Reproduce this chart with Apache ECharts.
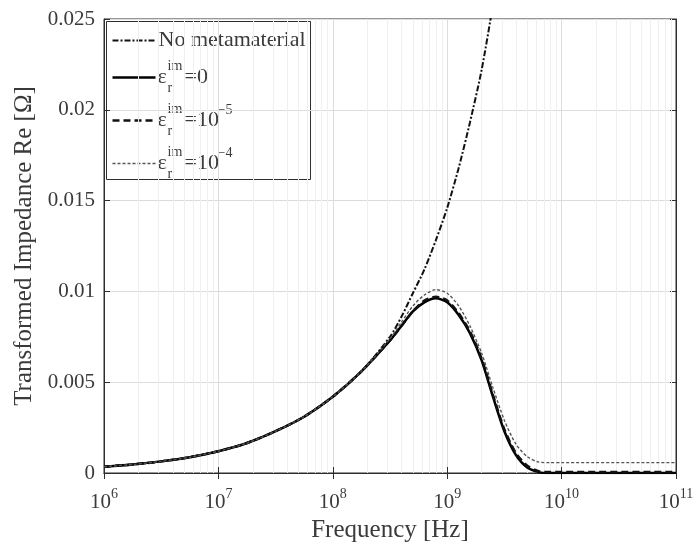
<!DOCTYPE html>
<html>
<head>
<meta charset="utf-8">
<script src="https://cdn.jsdelivr.net/npm/echarts@6/dist/echarts.min.js"></script>
<style>
html, body { margin: 0; padding: 0; background: #fff; }
#chart { width: 697px; height: 559px; }
</style>
</head>
<body>
<div id="chart"></div>
<script>
// Frequency samples [Hz]
const frequencyHz = [1e6, 1.78e6, 3.16e6, 5.62e6, 1e7, 1.78e7, 3.16e7, 5.62e7, 1e8, 1.78e8, 3.16e8,
  3.98e8, 5.01e8, 6.31e8, 7.94e8, 1e9, 1.26e9, 1.58e9, 2e9, 2.51e9, 3.16e9,
  3.98e9, 5.01e9, 6.31e9, 7.94e9, 1e10, 1e11];

// Real part of the transformed impedance [Ohm]
const noMetamaterial = [0.00035, 0.00047, 0.00064, 0.00087, 0.0012, 0.00165, 0.0023, 0.0031, 0.0042, 0.0056, 0.0075,
  0.0086, 0.0099, 0.0112, 0.0128, 0.0146, 0.0168, 0.0193, 0.0222, 0.0258, 0.0300,
  null, null, null, null, null, null];
const epsIm0 = [0.00035, 0.00047, 0.00064, 0.00087, 0.0012, 0.00165, 0.0023, 0.0031, 0.0042, 0.0056, 0.0073,
  0.0081, 0.0089, 0.0094, 0.00962, 0.0094, 0.0087, 0.0077, 0.0062, 0.0042, 0.0023,
  0.0010, 0.0003, 0.00005, 0.0, 0.0, 0.0];
const epsIm1e5 = [0.00035, 0.00047, 0.00064, 0.00087, 0.0012, 0.00165, 0.0023, 0.0031, 0.0042, 0.0056, 0.0073,
  0.0081, 0.0089, 0.0095, 0.0097, 0.0095, 0.0088, 0.0078, 0.0063, 0.0043, 0.0024,
  0.0011, 0.0004, 0.0001, 0.00005, 0.00005, 0.00005];
const epsIm1e4 = [0.00035, 0.00047, 0.00064, 0.00087, 0.0012, 0.00165, 0.0023, 0.0031, 0.0042, 0.0056, 0.0074,
  0.0083, 0.0092, 0.0098, 0.0101, 0.0099, 0.0092, 0.0081, 0.0066, 0.0047, 0.0029,
  0.0016, 0.0009, 0.0006, 0.00057, 0.00057, 0.00057];

// Axis ticks
const xTickExponents = [6, 7, 8, 9, 10, 11];
const yTickLabels = ['0', '0.005', '0.01', '0.015', '0.02', '0.025'];

// Minor log grid positions (2..9 x 10^n)
const minorFrequencies = [];
for (let e = xTickExponents[0]; e < xTickExponents[xTickExponents.length - 1]; e++) {
  for (let m = 2; m <= 9; m++) minorFrequencies.push(m * Math.pow(10, e));
}

const FONT = 'Liberation Serif';
const TXT = '#3a3a3a';
const AX = '#2e2e2e';

const pairs = arr => frequencyHz.map((f, i) => [f, arr[i]]);

const chart = echarts.init(document.getElementById('chart'), null, { renderer: 'canvas' });

const commonX = {
  type: 'log', logBase: 10,
  min: Math.pow(10, xTickExponents[0]),
  max: Math.pow(10, xTickExponents[xTickExponents.length - 1])
};

const option = {
  animation: false,
  backgroundColor: '#fff',
  grid: { left: 104, right: 21, top: 19, bottom: 86, show: true, borderColor: AX, borderWidth: 1, backgroundColor: '#fff' },
  xAxis: [
    Object.assign({}, commonX, {
      position: 'bottom',
      name: 'Frequency [Hz]',
      nameLocation: 'middle',
      nameGap: 42,
      nameTextStyle: { fontFamily: FONT, fontSize: 25, color: TXT },
      axisLine: { show: true, lineStyle: { color: AX, width: 1 } },
      axisTick: { show: true, inside: true, length: 6, lineStyle: { color: AX } },
      splitLine: { show: true, lineStyle: { color: '#dcdcdc', width: 1 } },
      axisLabel: {
        margin: 14,
        formatter: v => '{b|10}{s|' + Math.round(Math.log10(v)) + '}',
        rich: {
          b: { fontFamily: FONT, fontSize: 21, color: TXT, lineHeight: 26, verticalAlign: 'bottom' },
          s: { fontFamily: FONT, fontSize: 14, color: TXT, lineHeight: 14, verticalAlign: 'top' }
        }
      }
    }),
    Object.assign({}, commonX, {
      position: 'top',
      axisLine: { show: true, lineStyle: { color: AX } },
      axisTick: { show: true, inside: true, length: 6, lineStyle: { color: AX } },
      axisLabel: { show: false },
      splitLine: { show: false }
    })
  ],
  yAxis: [
    {
      type: 'value', min: 0, max: 0.025, interval: 0.005,
      position: 'left',
      name: 'Transformed Impedance Re [\u03A9]',
      nameLocation: 'middle',
      nameGap: 66,
      nameTextStyle: { fontFamily: FONT, fontSize: 25, color: TXT },
      axisLine: { show: true, lineStyle: { color: AX } },
      axisTick: { show: true, inside: true, length: 6, lineStyle: { color: AX } },
      splitLine: { show: true, lineStyle: { color: '#dcdcdc', width: 1 } },
      axisLabel: {
        margin: 9,
        fontFamily: FONT, fontSize: 21, color: TXT,
        formatter: v => yTickLabels[Math.round(v / 0.005)]
      }
    },
    {
      type: 'value', min: 0, max: 0.025, interval: 0.005,
      position: 'right',
      axisLine: { show: true, lineStyle: { color: AX } },
      axisTick: { show: true, inside: true, length: 6, lineStyle: { color: AX } },
      axisLabel: { show: false },
      splitLine: { show: false }
    }
  ],
  series: [
    {
      name: 'No metamaterial', type: 'line', data: pairs(noMetamaterial),
      showSymbol: false, smooth: 0.25, clip: true, z: 5,
      lineStyle: { color: '#111', width: 2, type: [6, 2, 2, 2] },
      markLine: {
        silent: true, symbol: 'none', animation: false,
        label: { show: false },
        lineStyle: { color: '#efefef', width: 1, type: 'solid' },
        data: minorFrequencies.map(f => ({ xAxis: f }))
      }
    },
    {
      name: 'eps0', type: 'line', data: pairs(epsIm0),
      showSymbol: false, smooth: 0.25, clip: true, z: 6,
      lineStyle: { color: '#000', width: 2.5, type: 'solid' }
    },
    {
      name: 'eps1e-5', type: 'line', data: pairs(epsIm1e5),
      showSymbol: false, smooth: 0.25, clip: true, z: 7,
      lineStyle: { color: '#111', width: 2.5, type: [7, 4] }
    },
    {
      name: 'eps1e-4', type: 'line', data: pairs(epsIm1e4),
      showSymbol: false, smooth: 0.25, clip: true, z: 8,
      lineStyle: { color: '#555', width: 1.4, type: [3, 2] }
    }
  ],
  graphic: [
    {
      type: 'group', left: 106, top: 21, z: 100,
      children: [
        { type: 'rect', shape: { x: 0, y: 0, width: 204, height: 158 }, style: { fill: '#fff', stroke: AX, lineWidth: 1 } },
        // entry 1
        { type: 'line', shape: { x1: 6, y1: 19, x2: 49, y2: 19 }, style: { stroke: '#111', lineWidth: 2, lineDash: [6, 2, 2, 2] } },
        { type: 'text', x: 52, y: 19, style: { text: 'No metamaterial', font: '22px "Liberation Serif"', fill: TXT, textVerticalAlign: 'middle' } },
        // entry 2
        { type: 'line', shape: { x1: 6, y1: 56, x2: 49, y2: 56 }, style: { stroke: '#000', lineWidth: 2.5 } },
        { type: 'text', x: 51, y: 56, style: { text: '\u03B5', font: '22px "Liberation Serif"', fill: TXT, textVerticalAlign: 'middle' } },
        { type: 'text', x: 61, y: 45, style: { text: 'im', font: '14px "Liberation Serif"', fill: TXT, textVerticalAlign: 'middle' } },
        { type: 'text', x: 61, y: 67, style: { text: 'r', font: '14px "Liberation Serif"', fill: TXT, textVerticalAlign: 'middle' } },
        { type: 'text', x: 78, y: 56, style: { text: '=0', font: '22px "Liberation Serif"', fill: TXT, textVerticalAlign: 'middle' } },
        // entry 3
        { type: 'line', shape: { x1: 6, y1: 99, x2: 49, y2: 99 }, style: { stroke: '#111', lineWidth: 2.5, lineDash: [7, 4] } },
        { type: 'text', x: 51, y: 99, style: { text: '\u03B5', font: '22px "Liberation Serif"', fill: TXT, textVerticalAlign: 'middle' } },
        { type: 'text', x: 61, y: 88, style: { text: 'im', font: '14px "Liberation Serif"', fill: TXT, textVerticalAlign: 'middle' } },
        { type: 'text', x: 61, y: 110, style: { text: 'r', font: '14px "Liberation Serif"', fill: TXT, textVerticalAlign: 'middle' } },
        { type: 'text', x: 78, y: 99, style: { text: '=10', font: '22px "Liberation Serif"', fill: TXT, textVerticalAlign: 'middle' } },
        { type: 'text', x: 111, y: 89, style: { text: '\u22125', font: '14px "Liberation Serif"', fill: TXT, textVerticalAlign: 'middle' } },
        // entry 4
        { type: 'line', shape: { x1: 6, y1: 142, x2: 49, y2: 142 }, style: { stroke: '#555', lineWidth: 1.4, lineDash: [3, 2] } },
        { type: 'text', x: 51, y: 142, style: { text: '\u03B5', font: '22px "Liberation Serif"', fill: TXT, textVerticalAlign: 'middle' } },
        { type: 'text', x: 61, y: 131, style: { text: 'im', font: '14px "Liberation Serif"', fill: TXT, textVerticalAlign: 'middle' } },
        { type: 'text', x: 61, y: 153, style: { text: 'r', font: '14px "Liberation Serif"', fill: TXT, textVerticalAlign: 'middle' } },
        { type: 'text', x: 78, y: 142, style: { text: '=10', font: '22px "Liberation Serif"', fill: TXT, textVerticalAlign: 'middle' } },
        { type: 'text', x: 111, y: 132, style: { text: '\u22124', font: '14px "Liberation Serif"', fill: TXT, textVerticalAlign: 'middle' } }
      ]
    }
  ]
};

chart.setOption(option);
</script>
</body>
</html>
